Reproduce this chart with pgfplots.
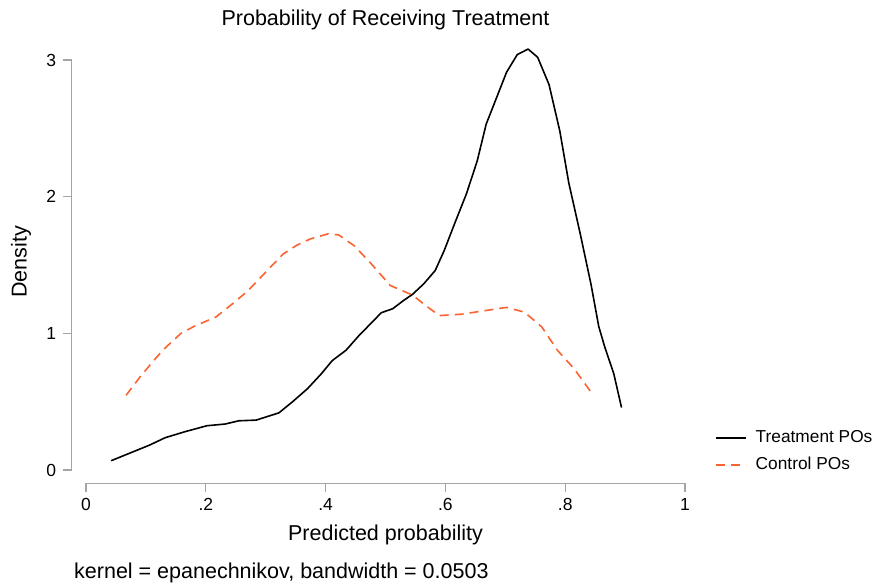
\documentclass[border=0pt]{standalone}
\usepackage{fontspec}
\setmainfont{Liberation Sans}
\usepackage{pgfplots}
\pgfplotsset{compat=1.18}
\definecolor{ctrl}{RGB}{250,100,50}
\definecolor{axgray}{RGB}{165,165,165}
\begin{document}
\begin{tikzpicture}[x=1bp,y=1bp]
\path[use as bounding box] (0,0) rectangle (878,586);
\begin{axis}[
  at={(71.7bp,102.5bp)}, anchor=south west,
  scale only axis, width=613.3bp, height=438.5bp,
  xmin=-0.0239, xmax=1.0, ymin=-0.0988, ymax=3.11,
  axis x line*=bottom, axis y line*=left,
  axis line style={draw=none},
  tick align=outside, major tick length=9bp,
  tick style={axgray, line width=1.2bp},
  xtick={0,0.2,0.4,0.6,0.8,1}, xticklabels={0,.2,.4,.6,.8,1},
  ytick={0,1,2,3}, yticklabels={0,1,2,3},
  ticklabel style={font=\fontsize{17.5bp}{20bp}\selectfont},
  xticklabel style={yshift=-2bp},
  yticklabel style={xshift=-3bp},
  /pgf/number format/assume math mode=true,
  clip=false,
  legend style={draw=none, fill=none, at={(1.0488,0.122)}, anchor=north west,
    font=\fontsize{17.3bp}{20bp}\selectfont, inner sep=0pt,
    row sep=11bp,
    nodes={inner sep=0pt, text height=12.5bp, text depth=3.5bp}},
  legend cell align=left,
  legend image code/.code={\draw[#1] (0bp,0bp) -- (30bp,0bp); \path (39bp,0bp);},
]
\draw[axgray, line width=1.2bp] (axis cs:-0.0239,0) -- (axis cs:-0.0239,3);
\draw[axgray, line width=1.2bp] (axis cs:0,-0.0988) -- (axis cs:1,-0.0988);
\addplot[black, line width=1.6bp, line join=round] coordinates {
(0.042,0.068)(0.074,0.125)(0.106,0.182)(0.132,0.236)(0.165,0.28)(0.202,0.324)
(0.232,0.336)(0.255,0.36)(0.284,0.365)(0.322,0.418)(0.345,0.50)(0.370,0.596)(0.392,0.70)
(0.411,0.80)(0.434,0.876)(0.456,0.985)(0.475,1.07)(0.493,1.151)(0.512,1.18)(0.530,1.24)
(0.545,1.285)(0.564,1.363)(0.583,1.46)(0.598,1.606)(0.616,1.81)(0.635,2.02)
(0.653,2.26)(0.668,2.53)(0.685,2.72)(0.702,2.91)(0.72,3.04)(0.738,3.08)(0.754,3.02)
(0.773,2.82)(0.791,2.48)(0.806,2.10)(0.825,1.73)(0.843,1.36)(0.856,1.05)(0.866,0.90)
(0.881,0.706)(0.894,0.457)};
\addlegendentry{Treatment POs}
\addplot[ctrl, line width=1.6bp, dash pattern=on 9bp off 6bp, line join=round] coordinates {
(0.067,0.547)(0.090,0.68)(0.113,0.80)(0.128,0.876)(0.158,0.998)(0.180,1.05)
(0.217,1.12)(0.240,1.20)(0.27,1.31)(0.307,1.48)(0.329,1.58)(0.352,1.645)(0.374,1.69)
(0.404,1.728)(0.422,1.72)(0.448,1.64)(0.478,1.50)(0.508,1.35)(0.545,1.28)
(0.568,1.20)(0.590,1.13)(0.627,1.14)(0.672,1.17)(0.702,1.19)(0.732,1.155)
(0.761,1.046)(0.787,0.876)(0.815,0.74)(0.843,0.57)};
\addlegendentry{Control POs}
\end{axis}
\node[font=\fontsize{21.5bp}{25bp}\selectfont] at (385.5,566) {Probability of Receiving Treatment};
\node[font=\fontsize{21.5bp}{25bp}\selectfont, rotate=90] at (21,324) {Density};
\node[font=\fontsize{21.5bp}{25bp}\selectfont] at (385.5,51) {Predicted probability};
\node[font=\fontsize{21.5bp}{25bp}\selectfont, anchor=west, inner sep=0pt] at (74,13) {kernel = epanechnikov, bandwidth = 0.0503};
\end{tikzpicture}
\end{document}
